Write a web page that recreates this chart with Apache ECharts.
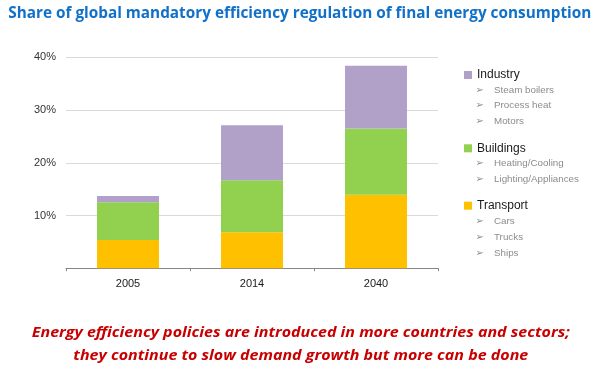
<!DOCTYPE html>
<html>
<head>
<meta charset="utf-8">
<script src="https://cdn.jsdelivr.net/npm/echarts@6/dist/echarts.min.js"></script>
<style>html,body{margin:0;padding:0;background:#fff}#c{width:600px;height:369px}</style>
</head>
<body>
<div id="c"></div>
<script>
const titleText = 'Share of global mandatory efficiency regulation of final energy consumption';
const noteLines = ['Energy efficiency policies are introduced in more countries and sectors;',
                   'they continue to slow demand growth but more can be done'];
const categories = ['2005', '2014', '2040'];
const transport = [5.35, 6.8, 13.95];
const buildings = [7.15, 9.9, 12.55];
const industry = [1.2, 10.4, 11.9];
const yTicks = [0, 10, 20, 30, 40];
const legendGroups = [
  { name: 'Industry', subs: ['Steam boilers', 'Process heat', 'Motors'] },
  { name: 'Buildings', subs: ['Heating/Cooling', 'Lighting/Appliances'] },
  { name: 'Transport', subs: ['Cars', 'Trucks', 'Ships'] }
];

const colors = { Industry: '#b1a0c7', Buildings: '#92d050', Transport: '#ffc000' };

const ctx = document.createElement('canvas').getContext('2d');
function measure(font, text) { ctx.font = font; return ctx.measureText(text).width; }

const titleFont = 'bold 16px "Open Sans"';
const titleScale = 583 / measure(titleFont, titleText);
const noteFont = 'italic bold 15px "Open Sans"';
const noteScale = 538 / measure(noteFont, noteLines[0]);

const chart = echarts.init(document.getElementById('c'), null, { renderer: 'canvas' });

const graphics = [];
graphics.push({
  type: 'text', x: 8.3, y: 13, scaleX: titleScale, silent: true,
  style: { text: titleText, font: titleFont, fill: '#1170c8', textAlign: 'left', textVerticalAlign: 'middle' }
});
const noteY = [333, 355.5];
noteLines.forEach((t, i) => {
  graphics.push({
    type: 'text', x: 300.8, y: noteY[i], scaleX: noteScale, silent: true,
    style: { text: t, font: noteFont, fill: '#c80000', textAlign: 'center', textVerticalAlign: 'middle' }
  });
});

const mainY = [75, 148.3, 205.7];
const subY = [[90.7, 105.7, 121.7], [163.3, 179.3], [221.7, 237.3, 253.3]];
const legends = [];
legendGroups.forEach((g, gi) => {
  legends.push({
    data: [g.name], left: 464, top: mainY[gi] - 6.5, orient: 'vertical', padding: 0,
    itemWidth: 8, itemHeight: 8, icon: 'rect', selectedMode: false,
    textStyle: { fontFamily: 'Liberation Sans', fontSize: 12, color: '#1a1a1a', lineHeight: 13 }
  });
  g.subs.forEach((s, si) => {
    graphics.push({
      type: 'text', x: 475.5, y: subY[gi][si], silent: true,
      style: { text: '\u27A2', font: '10px "DejaVu Sans"', fill: '#8c8c8c', textVerticalAlign: 'middle' }
    });
    graphics.push({
      type: 'text', x: 494, y: subY[gi][si], silent: true,
      style: { text: s, font: '9.8px "Liberation Sans"', fill: '#8c8c8c', textVerticalAlign: 'middle' }
    });
  });
});

function barSeries(name, data) {
  return {
    name, type: 'bar', stack: 'total', data, barWidth: 62,
    itemStyle: { color: colors[name] }, emphasis: { disabled: true }
  };
}

chart.setOption({
  animation: false,
  textStyle: { fontFamily: 'Liberation Sans' },
  legend: legends,
  grid: { left: 66, right: 162, top: 57.3, bottom: 100.8, containLabel: false },
  xAxis: {
    type: 'category', data: categories,
    axisLine: { lineStyle: { color: '#868686', width: 1 } },
    axisTick: { show: true, alignWithLabel: false, length: 3, lineStyle: { color: '#868686' } },
    axisLabel: { color: '#1a1a1a', fontSize: 11, margin: 10 }
  },
  yAxis: {
    type: 'value', min: yTicks[0], max: yTicks[yTicks.length - 1], interval: 10,
    axisLine: { show: false }, axisTick: { show: false },
    splitLine: { lineStyle: { color: '#d9d9d9', width: 1 } },
    axisLabel: { color: '#333', fontSize: 11, margin: 10, formatter: v => v === 0 ? '' : v + '%' }
  },
  series: [
    barSeries('Transport', transport),
    barSeries('Buildings', buildings),
    barSeries('Industry', industry)
  ],
  graphic: graphics
});
</script>
</body>
</html>
